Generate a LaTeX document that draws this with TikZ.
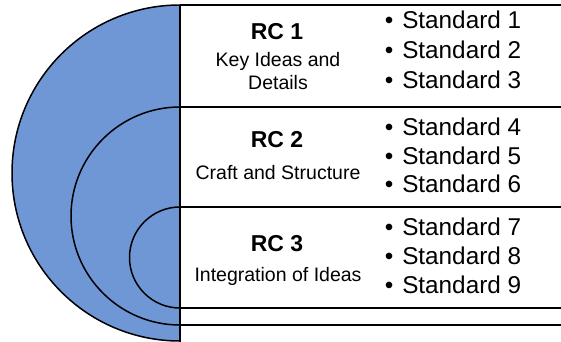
\documentclass[tikz,border=0pt]{standalone}
\usepackage{fontspec}
\setmainfont{Liberation Sans}
\usetikzlibrary{positioning}
\definecolor{blue1}{RGB}{111, 151, 213}

\begin{document}
\begin{tikzpicture}[x=1pt, y=1pt, line width=1.5pt,
  rctitle/.style={font=\bfseries\fontsize{23}{26}\selectfont, inner sep=0pt},
  rcsub/.style={font=\fontsize{19.5}{23}\selectfont, align=center, inner sep=0pt},
  stdline/.style={anchor=west, font=\fontsize{24.3}{27}\selectfont, inner sep=0pt}]
  \useasboundingbox (0,0) rectangle (561,341);

  % nested half circles
  \draw[fill=blue1] (180,336) arc (90:270:168) -- cycle;
  \draw (180,234) arc (90:270:109);
  \draw (180,134) arc (90:270:50.5);

  % rows
  \foreach \yy in {336, 234, 134, 33, 16}
    \draw (180,\yy) -- (561,\yy);
  \draw (180,336) -- (180,0);

  % category labels
  \node[rctitle] (rc1) at (277,309) {RC 1};
  \node[rcsub] (rc1sub) at (278,270) {Key Ideas and\\Details};
  \node[rctitle] (rc2) at (277,201) {RC 2};
  \node[rcsub] (rc2sub) at (278,168) {Craft and Structure};
  \node[rctitle] (rc3) at (277,97) {RC 3};
  \node[rcsub] (rc3sub) at (278,65) {Integration of Ideas};

  % standards
  \foreach \n/\yy in {1/321, 2/291, 3/261, 4/214, 5/185, 6/157, 7/114, 8/85, 9/56}
    \node[stdline] (std\n) at (384,\yy) {\textbullet\hspace{9pt}Standard \n};
\end{tikzpicture}
\end{document}
